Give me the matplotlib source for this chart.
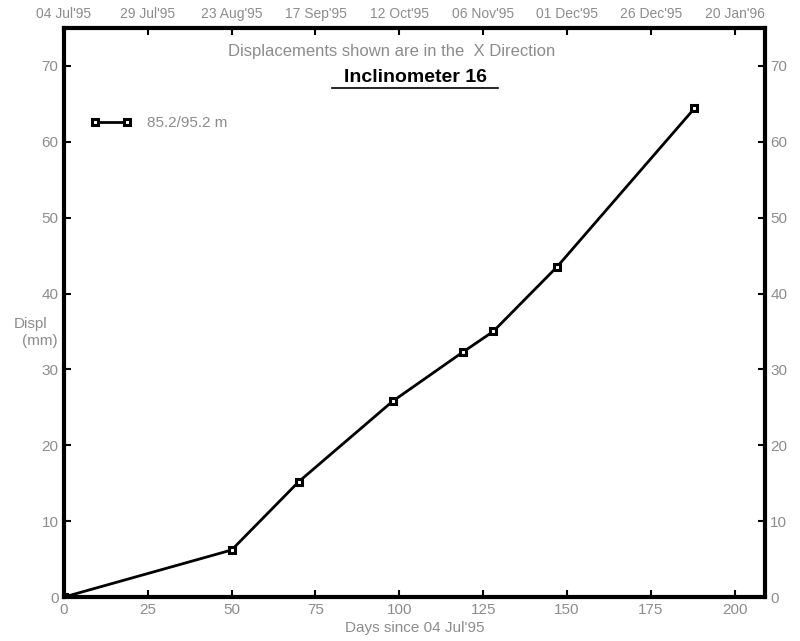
import matplotlib
matplotlib.use("Agg")
import matplotlib.pyplot as plt

days = [0, 50, 70, 98, 119, 128, 147, 188]
displ = [0, 6.2, 15.2, 25.8, 32.3, 35.0, 43.5, 64.4]
day_ticks = [0, 25, 50, 75, 100, 125, 150, 175, 200]
date_labels = ["04 Jul'95", "29 Jul'95", "23 Aug'95", "17 Sep'95", "12 Oct'95",
               "06 Nov'95", "01 Dec'95", "26 Dec'95", "20 Jan'96"]
y_ticks = [0, 10, 20, 30, 40, 50, 60, 70]
series_name = "85.2/95.2 m"

plt.rcParams["font.family"] = ["Liberation Sans Narrow", "Liberation Sans", "DejaVu Sans"]
grey = "#8c8c8c"

fig = plt.figure(figsize=(8, 6.41), dpi=100)
ax = fig.add_axes([0.08, 0.0686, 0.876, 0.8877])

ax.plot(days, displ, color="black", lw=2, marker="s", ms=5,
        mfc="white", mec="black", mew=2.2, label=series_name)

ax.set_xlim(0, 209)
ax.set_ylim(0, 75)
for s in ax.spines.values():
    s.set_linewidth(3)

ax.set_xticks(day_ticks)
ax.set_yticks(y_ticks)
ax.tick_params(direction="in", length=5, width=1.5, labelsize=11, labelcolor=grey,
               left=True, right=True, bottom=True, top=False,
               labelright=True, pad=4)

top = ax.secondary_xaxis("top")
top.set_xticks(day_ticks)
top.set_xticklabels(date_labels)
top.tick_params(direction="in", length=5, width=1.5, labelsize=10, labelcolor=grey, pad=5)
top.spines["top"].set_visible(False)

ax.set_xlabel("Days since 04 Jul'95", color=grey, fontsize=11, labelpad=3)
fig.text(0.017, 0.488, "Displ", color=grey, fontsize=11)
fig.text(0.027, 0.462, "(mm)", color=grey, fontsize=11)

ax.text(0.468, 0.958, "Displacements shown are in the  X Direction", transform=ax.transAxes,
        ha="center", va="center", color=grey, fontsize=12)
ax.text(0.501, 0.913, "Inclinometer 16", transform=ax.transAxes, ha="center", va="center",
        color="black", fontsize=14, fontweight="bold")
ax.plot([0.383, 0.62], [0.894, 0.894], transform=ax.transAxes, color="black", lw=1.2)

leg = ax.legend(loc="center left", bbox_to_anchor=(0.038, 0.833), frameon=False,
                fontsize=11, handlelength=2.7, handletextpad=1.0, numpoints=2,
                borderaxespad=0, borderpad=0)
for t in leg.get_texts():
    t.set_color(grey)

fig.savefig("out.png", dpi=100)
